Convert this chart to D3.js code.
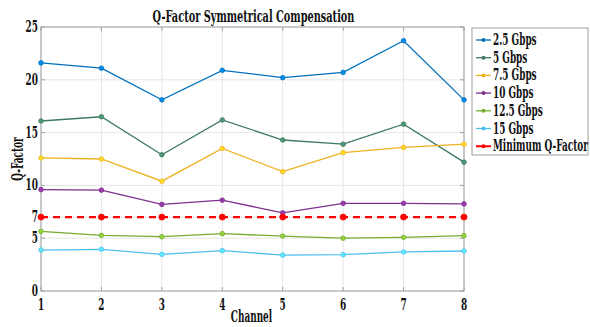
<!DOCTYPE html>
<html>
<head>
  <meta charset="utf-8">
  <style>
    body { margin: 0; padding: 0; background: white; }
    .grid line { stroke: #e6e6e6; stroke-width: 1; }
    .frame { fill: none; stroke: #a0a0a0; stroke-width: 1; }
  </style>
</head>
<body>
  <div id="chart"></div>
  <script src="https://d3js.org/d3.v7.min.js"></script>
  <script>
    // data
    var channels = [1, 2, 3, 4, 5, 6, 7, 8]
    var seriesNames = ["2.5 Gbps", "5 Gbps", "7.5 Gbps", "10 Gbps", "12.5 Gbps", "15 Gbps", "Minimum Q-Factor"]
    var q25 = [21.6, 21.1, 18.1, 20.9, 20.2, 20.7, 23.7, 18.1]
    var q5 = [16.1, 16.5, 12.9, 16.2, 14.3, 13.9, 15.8, 12.2]
    var q75 = [12.6, 12.5, 10.4, 13.5, 11.3, 13.1, 13.6, 13.9]
    var q10 = [9.6, 9.55, 8.2, 8.6, 7.4, 8.3, 8.3, 8.25]
    var q125 = [5.65, 5.27, 5.14, 5.43, 5.2, 5.0, 5.08, 5.24]
    var q15 = [3.88, 3.95, 3.47, 3.82, 3.4, 3.44, 3.7, 3.79]
    var qMin = [7, 7, 7, 7, 7, 7, 7, 7]
    var yTicks = [0, 5, 7, 10, 15, 20, 25]

    var colors = ["#0072BD", "#3E7B5F", "#EDB120", "#7E2F8E", "#77AC30", "#4DBEEE", "#FF0000"]
    var allSeries = [q25, q5, q75, q10, q125, q15, qMin]

    var width = 590, height = 327
    var margin = { left: 41, right: 126, top: 27, bottom: 36 }
    var font = "'DejaVu Serif', 'Liberation Serif', serif"
    var fsize = 16

    var svg = d3.select("#chart").append("svg")
      .attr("width", width)
      .attr("height", height)

    // the reference text is squeezed sideways; measure a string and
    // derive the horizontal scale that makes it a given width
    function fitScale(str, w) {
      var probe = svg.append("text")
        .attr("font-family", font).attr("font-weight", "bold").attr("font-size", fsize)
        .text(str)
      var s = Math.min(1, w / probe.node().getComputedTextLength())
      probe.remove()
      return s
    }
    var sx = fitScale("Minimum Q-Factor", 95)
    var titleSx = fitScale("Q-Factor Symmetrical Compensation", 202)

    var x = d3.scaleLinear().domain([1, 8]).range([margin.left, width - margin.right])
    var y = d3.scaleLinear().domain([0, 25]).range([height - margin.bottom, margin.top])

    // squeezed text helper
    function label(g, tx, ty, str, anchor, rot, s) {
      return g.append("text")
        .attr("transform", "translate(" + tx + "," + ty + ")" + (rot ? " rotate(" + rot + ")" : "") + " scale(" + (s || sx) + ",1)")
        .attr("text-anchor", anchor || "start")
        .attr("font-family", font)
        .attr("font-weight", "bold")
        .attr("font-size", fsize)
        .attr("fill", "#111")
        .text(str)
    }

    // grid
    var grid = svg.append("g").attr("class", "grid")
    grid.selectAll(".gx").data(channels).enter().append("line")
      .attr("x1", d => x(d)).attr("x2", d => x(d))
      .attr("y1", y(0)).attr("y2", y(25))
    grid.selectAll(".gy").data(yTicks).enter().append("line")
      .attr("x1", x(1)).attr("x2", x(8))
      .attr("y1", d => y(d)).attr("y2", d => y(d))

    // frame
    svg.append("rect").attr("class", "frame")
      .attr("x", x(1)).attr("y", y(25))
      .attr("width", x(8) - x(1)).attr("height", y(0) - y(25))

    // tick marks
    var ticks = svg.append("g").attr("stroke", "#a0a0a0")
    yTicks.forEach(function (t) {
      ticks.append("line").attr("x1", x(1)).attr("x2", x(1) + 4).attr("y1", y(t)).attr("y2", y(t))
      ticks.append("line").attr("x1", x(8)).attr("x2", x(8) - 4).attr("y1", y(t)).attr("y2", y(t))
    })
    channels.forEach(function (c) {
      ticks.append("line").attr("x1", x(c)).attr("x2", x(c)).attr("y1", y(0)).attr("y2", y(0) - 4)
      ticks.append("line").attr("x1", x(c)).attr("x2", x(c)).attr("y1", y(25)).attr("y2", y(25) + 4)
    })

    // tick labels
    var tl = svg.append("g")
    yTicks.forEach(function (t) {
      label(tl, x(1) - 3, y(t) + 5, t, "end")
    })
    channels.forEach(function (c) {
      label(tl, x(c), y(0) + 19, c, "middle")
    })

    // axis titles & title
    label(svg, (x(1) + x(8)) / 2 - 1, 322, "Channel", "middle")
    label(svg, 23, (y(0) + y(25)) / 2, "Q-Factor", "middle", -90)
    label(svg, (x(1) + x(8)) / 2 + 1, 22, "Q-Factor Symmetrical Compensation", "middle", 0, titleSx)

    // lines
    var line = d3.line().x((d, i) => x(channels[i])).y(d => y(d))
    allSeries.forEach(function (s, k) {
      var g = svg.append("g")
      g.append("path")
        .attr("d", line(s))
        .attr("fill", "none")
        .attr("stroke", colors[k])
        .attr("stroke-width", k == 6 ? 2.2 : 1.3)
        .attr("stroke-dasharray", k == 6 ? "7,5" : null)
      g.selectAll("circle").data(s).enter().append("circle")
        .attr("cx", (d, i) => x(channels[i]))
        .attr("cy", d => y(d))
        .attr("r", k == 6 ? 3 : 2.3)
        .attr("fill", k == 6 ? colors[k] : d3.color(colors[k]).brighter(0.6))
        .attr("stroke", colors[k])
        .attr("stroke-width", 0.8)
    })

    // legend
    var lx = 472, ly = 28, lw = 116, lh = 127
    var legend = svg.append("g")
    legend.append("rect")
      .attr("x", lx).attr("y", ly).attr("width", lw).attr("height", lh)
      .attr("fill", "white").attr("stroke", "#a0a0a0")
    seriesNames.forEach(function (name, k) {
      var cy = ly + 12 + k * 17.7
      legend.append("line")
        .attr("x1", lx + 4).attr("x2", lx + 19)
        .attr("y1", cy).attr("y2", cy)
        .attr("stroke", colors[k])
        .attr("stroke-width", k == 6 ? 2 : 1.3)
        .attr("stroke-dasharray", k == 6 ? "6,3" : null)
      legend.append("circle")
        .attr("cx", lx + 11.5).attr("cy", cy).attr("r", 2)
        .attr("fill", colors[k])
      label(legend, lx + 21, cy + 5, name, "start")
    })
  </script>
</body>
</html>
